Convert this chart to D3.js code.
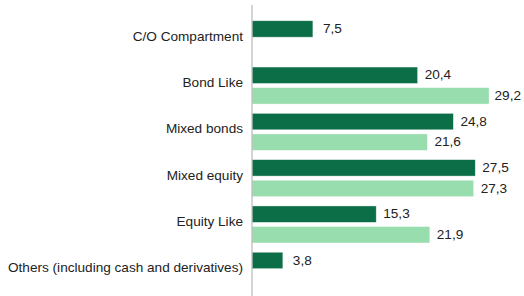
<!DOCTYPE html>
<html><head><meta charset="utf-8">
<script src="https://cdn.jsdelivr.net/npm/d3@7"></script>
<style>html,body{margin:0;padding:0;background:#fff;}svg{display:block;}</style>
</head><body>
<svg id="chart" width="524" height="296"></svg>
<script>
const categories = ["C/O Compartment","Bond Like","Mixed bonds","Mixed equity","Equity Like","Others (including cash and derivatives)"];
const seriesNames = ["s1","s2"];
const series1 = [7.5, 20.4, 24.8, 27.5, 15.3, 3.8];
const series2 = [null, 29.2, 21.6, 27.3, 21.9, null];
const colors = ["#0b6e47","#97ddae"];

const svg = d3.select("#chart");
const font = "'Liberation Sans', Arial, sans-serif";
const W = 524;
const x = d3.scaleLinear().domain([0, 30]).range([252, 495.6]);
const y = d3.scaleBand().domain(categories).range([16.1, 293.9]).paddingInner(0.2).paddingOuter(0.1);
const ys = d3.scaleBand().domain(seriesNames).range([0, y.bandwidth()]).paddingInner(0.2);
const fmt = v => d3.format(".1f")(v).replace(".", ",");

const data = [];
categories.forEach((c, i) => {
  const single = series2[i] == null;
  [series1, series2].forEach((s, j) => {
    if (s[i] != null) data.push({c, s: seriesNames[j], v: s[i], color: colors[j], single});
  });
});

svg.selectAll("rect.bar").data(data).enter().append("rect")
  .attr("class","bar")
  .attr("x", x(0))
  .attr("y", d => y(d.c) + ys(d.s))
  .attr("width", d => x(d.v) - x(0))
  .attr("height", ys.bandwidth())
  .attr("fill", d => d.color)
  .attr("stroke", "rgba(255,255,255,0.6)")
  .attr("stroke-width", 0.7);

svg.selectAll("text.val").data(data).enter().append("text")
  .attr("class","val")
  .attr("x", d => x(d.v) + (d.single ? 10 : 7))
  .attr("y", d => y(d.c) + ys(d.s) + ys.bandwidth()/2)
  .attr("dy", "0.3em")
  .attr("font-family", font).attr("font-size", 13.6).attr("fill", "#222")
  .text(d => fmt(d.v))
  .each(function() {
    const bb = this.getBBox();
    if (bb.x + bb.width > W - 3) d3.select(this).attr("x", W - 3 - bb.width);
  });

const axis = d3.axisLeft(y).tickSize(0).tickPadding(9);
const g = svg.append("g").attr("transform", `translate(${x(0)},0)`).call(axis);
g.select(".domain").remove();
g.selectAll("text").attr("font-family", font).attr("font-size", 13.6).attr("fill", "#222")
  .attr("dy", "0.1em");
svg.append("line").attr("x1", x(0)).attr("x2", x(0)).attr("y1", 5).attr("y2", 296)
  .attr("stroke", "#b8b8b8").attr("stroke-width", 1.2);
</script>
</body></html>
